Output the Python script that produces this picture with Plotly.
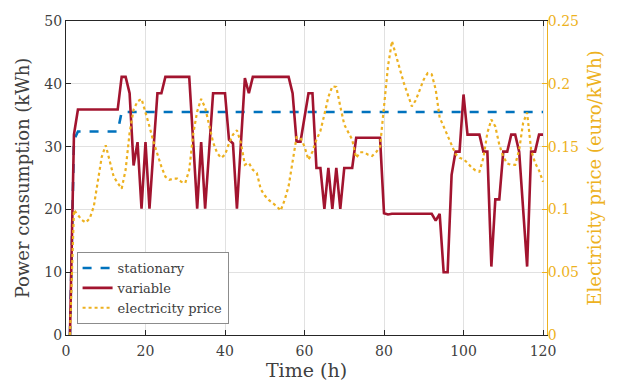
import plotly.graph_objects as go

hours = list(range(1, 121))

stationary = [0, 31.0] + [32.4] * 11 + [35.5] * 107

variable = [
    0, 31.9, 35.9, 35.9, 35.9, 35.9, 35.9, 35.9, 35.9, 35.9,
    35.9, 35.9, 35.9, 41.1, 41.1, 38.5, 27.0, 30.7, 20.1, 30.7,
    20.1, 29.5, 38.5, 38.5, 41.1, 41.1, 41.1, 41.1, 41.1, 41.1,
    41.1, 30.7, 20.1, 30.7, 20.1, 29.3, 38.5, 38.5, 38.5, 38.5,
    31.1, 30.5, 20.1, 30.5, 40.9, 38.5, 41.1, 41.1, 41.1, 41.1,
    41.1, 41.1, 41.1, 41.1, 41.1, 41.1, 38.5, 30.8, 30.8, 34.7,
    38.5, 38.5, 26.6, 26.6, 20.1, 26.6, 20.1, 26.6, 20.1, 26.6,
    26.6, 26.6, 31.4, 31.4, 31.4, 31.4, 31.4, 31.4, 31.4, 19.4,
    19.2, 19.3, 19.3, 19.3, 19.3, 19.3, 19.3, 19.3, 19.3, 19.3,
    19.3, 19.3, 18.2, 19.3, 10.0, 10.0, 25.5, 29.2, 29.2, 38.3,
    31.9, 31.9, 31.9, 31.9, 29.2, 29.2, 10.9, 21.6, 21.6, 29.2,
    29.2, 31.9, 31.9, 29.2, 20.0, 10.9, 29.2, 29.2, 31.9, 31.9,
]

price = [
    0, 0.0995, 0.0955, 0.0915, 0.0895, 0.093, 0.1025, 0.1235, 0.142, 0.151,
    0.1395, 0.126, 0.121, 0.1165, 0.1315, 0.161, 0.1795, 0.186, 0.188, 0.178,
    0.166, 0.154, 0.1435, 0.134, 0.126, 0.1235, 0.1245, 0.1245, 0.122, 0.121,
    0.1315, 0.16, 0.178, 0.188, 0.181, 0.1675, 0.1535, 0.145, 0.141, 0.1435,
    0.1525, 0.1595, 0.163, 0.153, 0.1355, 0.137, 0.1315, 0.129, 0.116, 0.111,
    0.1075, 0.105, 0.1025, 0.099, 0.1075, 0.1185, 0.1395, 0.1575, 0.157, 0.15,
    0.1395, 0.146, 0.1555, 0.1625, 0.1755, 0.1895, 0.198, 0.1975, 0.182, 0.1675,
    0.1615, 0.1555, 0.141, 0.1455, 0.1455, 0.1435, 0.1425, 0.1455, 0.15, 0.185,
    0.214, 0.234, 0.222, 0.2115, 0.2005, 0.1905, 0.182, 0.187, 0.1955, 0.2035,
    0.2085, 0.2075, 0.1955, 0.173, 0.166, 0.1585, 0.15, 0.144, 0.141, 0.14,
    0.137, 0.1335, 0.131, 0.13, 0.141, 0.161, 0.1715, 0.166, 0.1515, 0.142,
    0.1365, 0.1355, 0.1355, 0.1475, 0.169, 0.177, 0.1475, 0.137, 0.131, 0.122,
]

x_ticks = [0, 20, 40, 60, 80, 100, 120]
y_ticks = [0, 10, 20, 30, 40, 50]
y2_ticks = [0, 0.05, 0.1, 0.15, 0.2, 0.25]

BLUE = "#0072BD"
RED = "#A2142F"
ORANGE = "#EDB120"
DARK = "#262626"
TXT = "#404040"
FONT = "DejaVu Serif"

fig = go.Figure()
fig.add_trace(go.Scatter(x=hours, y=stationary, mode="lines", name="stationary",
                         line=dict(color=BLUE, width=2.6, dash="dash")))
fig.add_trace(go.Scatter(x=hours, y=variable, mode="lines", name="variable",
                         line=dict(color=RED, width=2.6)))
fig.add_trace(go.Scatter(x=hours, y=price, mode="lines", name="electricity price",
                         line=dict(color=ORANGE, width=2.2, dash="dot"), yaxis="y2"))

# the page body adds an 8px offset at top-left, so size and left/top margins compensate
fig.update_layout(
    width=610, height=379,
    margin=dict(l=58, r=71, t=13, b=52, autoexpand=False),
    plot_bgcolor="white", paper_bgcolor="white",
    font=dict(family=FONT, size=14, color=TXT),
    showlegend=True,
    legend=dict(x=0.022, y=0.035, xanchor="left", yanchor="bottom",
                bgcolor="white", bordercolor="#8c8c8c", borderwidth=1,
                font=dict(family=FONT, size=13, color=TXT),
                tracegroupgap=0, itemwidth=30),
    xaxis=dict(range=[0, 121], tickvals=x_ticks, ticks="inside", ticklen=5,
               tickcolor=DARK, showline=True, linecolor=DARK, linewidth=1,
               mirror="ticks", showgrid=True, gridcolor="#e1e1e1", zeroline=False,
               automargin=False, ticklabelstandoff=3,
               title=dict(text="Time (h)", font=dict(family=FONT, size=19, color=TXT), standoff=2),
               tickfont=dict(family=FONT, size=14, color=TXT)),
    yaxis=dict(range=[0, 50], tickvals=y_ticks, ticks="inside", ticklen=5,
               tickcolor=DARK, showline=True, linecolor=DARK, linewidth=1,
               showgrid=True, gridcolor="#e1e1e1", zeroline=False,
               automargin=False,
               title=dict(text="Power consumption (kWh)", font=dict(family=FONT, size=18, color=TXT), standoff=10),
               tickfont=dict(family=FONT, size=14, color=TXT)),
    yaxis2=dict(range=[0, 0.25], tickvals=y2_ticks, overlaying="y", side="right",
                ticks="inside", ticklen=5, tickcolor=ORANGE, showline=True,
                linecolor=ORANGE, linewidth=1, showgrid=False, zeroline=False,
                automargin=False, ticklabelstandoff=-3,
                title=dict(text="Electricity price (euro/kWh)", font=dict(family=FONT, size=18, color=ORANGE), standoff=10),
                tickfont=dict(family=FONT, size=14, color=ORANGE)),
)

fig.write_html("out.html")
